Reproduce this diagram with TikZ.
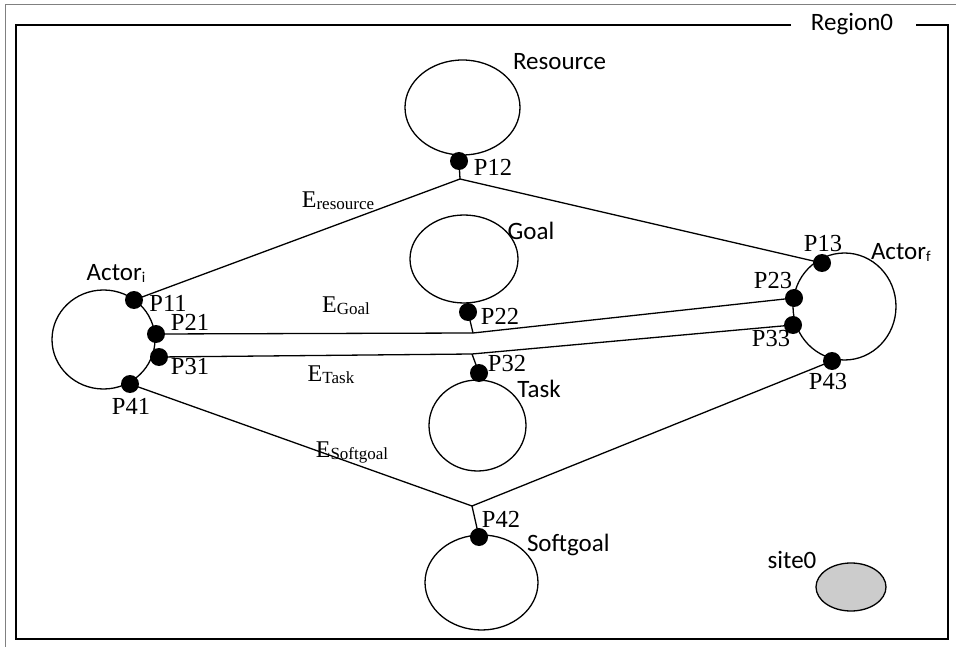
\documentclass[tikz,border=0pt]{standalone}
\usepackage{fontspec}
\setmainfont{Liberation Serif}
\newfontfamily\labelsans{Carlito}
\usetikzlibrary{shapes.geometric}
\begin{document}
\begin{tikzpicture}[x=1pt,y=-1pt,
  every node/.style={inner sep=0pt, outer sep=0pt},
  elem/.style={draw, ellipse, line width=1.3pt},
  port/.style={circle, fill=black, minimum size=18pt},
  link/.style={line width=1.3pt},
  plabel/.style={font=\fontsize{24.5}{24.5}\selectfont},
  slabel/.style={font=\labelsans\fontsize{25}{25}\selectfont},
  elabel/.style={font=\fontsize{24}{24}\selectfont}
]
\useasboundingbox (0,0) rectangle (956,647);

% frames
\draw[gray, line width=1pt] (5,647) -- (5,5) -- (956,5);
\draw[line width=2pt] (791,25) -- (16,25) -- (16,639) -- (948,639) -- (948,25) -- (916,25);
\node[slabel] (region) at (852,24) {Region0};

% elements
\node[elem, minimum width=103pt, minimum height=99pt] (actori) at (103.5,339.5) {};
\node[elem, minimum width=103pt, minimum height=107pt] (actorf) at (844.5,306.5) {};
\node[elem, minimum width=115pt, minimum height=95pt] (res) at (462.5,107.5) {};
\node[elem, minimum width=108pt, minimum height=88pt] (goal) at (464,259) {};
\node[elem, minimum width=97pt, minimum height=91pt] (task) at (477.5,425.5) {};
\node[elem, minimum width=113pt, minimum height=95pt] (soft) at (481.5,582.5) {};
\node[draw, ellipse, line width=1.3pt, fill=gray!40, minimum width=70pt, minimum height=48pt] (site) at (851,587) {};

% element labels
\node[slabel] (lactori) at (116,273) {Actor\raisebox{-2pt}{\fontsize{15}{15}\selectfont i}};
\node[slabel, anchor=west] (lactorf) at (871,252) {Actor\raisebox{-2pt}{\fontsize{15}{15}\selectfont f}};
\node[slabel, anchor=west] (lres) at (513,62) {Resource};
\node[slabel] (lgoal) at (531,231) {Goal};
\node[slabel] (ltask) at (539,389) {Task};
\node[slabel, anchor=west] (lsoft) at (527,545) {Softgoal};
\node[slabel] (lsite) at (792,560) {site0};

% junctions
\coordinate (j1) at (460,179);
\coordinate (j2) at (473,333);
\coordinate (j3) at (472,354);
\coordinate (j4) at (472,506);

% ports
\node[port] (p11) at (134,300) {};
\node[port] (p21) at (156,334) {};
\node[port] (p31) at (159,357) {};
\node[port] (p41) at (130,384) {};
\node[port] (p12) at (459,161) {};
\node[port] (p22) at (468,312) {};
\node[port] (p32) at (479,373) {};
\node[port] (p42) at (479,537) {};
\node[port] (p13) at (822,263) {};
\node[port] (p23) at (794,298) {};
\node[port] (p33) at (793,325) {};
\node[port] (p43) at (832,361) {};

% connectors
\draw[link] (p11.center) -- (j1) -- (p13.center);
\draw[link] (p12.center) -- (j1);
\draw[link] (p21.center) -- (j2) -- (p23.center);
\draw[link] (p22.center) -- (j2);
\draw[link] (p31.center) -- (j3) -- (p33.center);
\draw[link] (p32.center) -- (j3);
\draw[link] (p41.center) -- (j4) -- (p43.center);
\draw[link] (p42.center) -- (j4);

% port labels
\node[plabel] (l11) at (168,303) {P11};
\node[plabel] (l21) at (190,322) {P21};
\node[plabel] (l31) at (190,367) {P31};
\node[plabel] (l41) at (131,406) {P41};
\node[plabel] (l12) at (493,167) {P12};
\node[plabel] (l22) at (500,316) {P22};
\node[plabel] (l32) at (507,364) {P32};
\node[plabel] (l42) at (501,519) {P42};
\node[plabel] (l13) at (823,244) {P13};
\node[plabel] (l23) at (773,281) {P23};
\node[plabel] (l33) at (771,339) {P33};
\node[plabel] (l43) at (828,382) {P43};

% edge labels
\node[elabel] (eres) at (338,201) {E\raisebox{-2pt}{\fontsize{17}{17}\selectfont resource}};
\node[elabel] (egoal) at (346,306) {E\raisebox{-2pt}{\fontsize{17}{17}\selectfont Goal}};
\node[elabel] (etask) at (331,375) {E\raisebox{-2pt}{\fontsize{17}{17}\selectfont Task}};
\node[elabel] (esoft) at (352,452) {E\raisebox{-2pt}{\fontsize{17}{17}\selectfont Softgoal}};
\end{tikzpicture}
\end{document}
